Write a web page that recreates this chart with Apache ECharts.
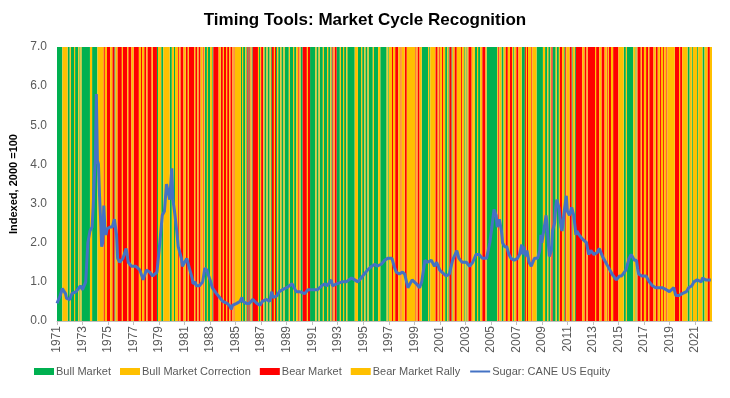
<!DOCTYPE html>
<html>
<head>
<meta charset="utf-8">
<title>Timing Tools: Market Cycle Recognition</title>
<script src="https://cdn.jsdelivr.net/npm/echarts@6/dist/echarts.min.js"></script>
<style>
    html, body { margin: 0; padding: 0; background: #fff; }
    #chart { width: 730px; height: 398px; }
</style>
</head>
<body>
<div id="chart"></div>
<script>
// 每年 12 个月的市场周期 (G 牛市, C 牛市回调, B 熊市, R 熊市反弹), 从 1971 年 1 月开始
const regimeYears = [
    'GGGGGCCCCCGG', 'CGGGCGGGCGCG', 'GGGGGGGCCGGG', 'GGCCCCCCBRRB', 'BBRRBBGCCBBB', // 1971-1975
    'BRBBBBRBBBRR', 'BBBBBRRBRRBB', 'RBBBBRBBBBGC', 'CCGGCCCCCCGG', 'CCGCCCBRBBBR', // 1976-1980
    'RBBRBBBBBRBB', 'RBBRRBRGGCGG', 'CCGBBBBBRRBB', 'RBBRBBRBBRBR', 'RRRRRGCGGCGB', // 1981-1985
    'GBRGBBBBBRGC', 'BBRGGCGGCGBB', 'RBGCGGCGGCGG', 'GGCGGGCGGCCB', 'RGGBBBBRBBGG', // 1986-1990
    'GGGCGGCGGGCG', 'GGCGGCGBRBBG', 'GGCGGCGGCGGG', 'GGGGCCCGGGCG', 'GCGGCGGGGCGG', // 1991-1995
    'GGCCGGGGGGCG', 'CCCBRRBBBRRB', 'RRRBBRRRRRRR', 'RBRBBRRGGGGG', 'GCGCCCCCBBRB', // 1996-2000
    'RRBRRGGCGBBG', 'CCBBRRRRBRRG', 'CGCBBBRRCGGC', 'GGCCBBBRGGGG', 'GGGGGGCBRRGG', // 2001-2005
    'CCBBRRBBRGCC', 'BBRRRGGGBRBR', 'RRBRRRRGGGGG', 'GCCGGCGGCBGG', 'GCGGCBBRRGBR', // 2006-2010
    'RRBBGCCGBBBB', 'BBRRBBRBBBBB', 'BBRBBBRRBBBR', 'RBRBBRRBBBBB', 'RRRRRGGCGGGG', // 2011-2015
    'GGCCGCBBBRBB', 'RRBBRBBBBRRB', 'BRRBRRBRRBRR', 'RRRRRBBBBRBB', 'RRRRRGGCCGCC', // 2016-2020
    'CCGCCCCGGCCC', 'BBRR'                                                           // 2021-2022
];

const regimeCodes = ['G', 'C', 'B', 'R'];
const regimeNames = ['Bull Market', 'Bull Market Correction', 'Bear Market', 'Bear Market Rally'];
const regimeColors = ['#00B050', '#FFC000', '#FF0000', '#FFC000'];
const regimeHeight = 7;

// 糖价指数 (2000 = 100), 月份为 1971 年 1 月起的偏移
const sugarMonth = [
    0, 3, 5, 8, 9, 12, 14, 18, 22, 24, 27, 28, 29, 31, 33, 34, 35, 36, 37, 38,
    39, 40, 41, 42, 43, 44, 45, 46, 47, 48, 50, 52, 54, 56, 57, 59, 62, 65, 67, 70,
    74, 75, 78, 81, 84, 87, 90, 94, 96, 99, 101, 103, 104, 106, 108, 109, 111, 113, 114, 115,
    117, 118, 122, 123, 125, 127, 128, 130, 131, 134, 137, 139, 141, 142, 144, 146, 150, 153, 156, 160,
    162, 164, 165, 169, 172, 174, 175, 178, 181, 184, 188, 191, 193, 197, 200, 202, 203, 207, 209, 212,
    216, 221, 222, 225, 228, 233, 236, 238, 242, 245, 249, 252, 254, 258, 259, 263, 268, 272, 277, 280,
    283, 286, 289, 292, 296, 299, 301, 305, 308, 311, 315, 317, 319, 322, 325, 327, 330, 331, 334, 338,
    341, 343, 346, 348, 352, 355, 357, 360, 362, 366, 369, 372, 376, 377, 378, 381, 385, 388, 391, 394,
    397, 400, 404, 407, 409, 411, 413, 414, 416, 418, 419, 421, 423, 425, 427, 430, 433, 435, 437, 438,
    439, 441, 442, 444, 446, 449, 452, 454, 455, 456, 460, 461, 463, 465, 466, 468, 469, 470, 472, 474,
    475, 477, 479, 480, 482, 484, 485, 486, 488, 489, 491, 494, 498, 500, 502, 505, 508, 510, 513, 516,
    519, 522, 526, 529, 531, 535, 538, 540, 543, 545, 546, 547, 550, 554, 557, 560, 563, 566, 569, 573,
    576, 578, 580, 582, 585, 588, 592, 594, 597, 599, 602, 606, 607, 610, 611, 615
];
const sugarIndex = [
    0.45, 0.65, 0.83, 0.7, 0.58, 0.55, 0.7, 0.75, 0.9, 0.8, 1.0, 1.5, 2.0, 2.3, 2.4, 2.9, 3.6, 4.1, 5.8, 4.1,
    4.0, 3.2, 2.6, 1.9, 2.0, 2.95, 2.4, 2.2, 2.35, 2.3, 2.4, 2.4, 2.6, 2.2, 1.6, 1.5, 1.6, 1.85, 1.5, 1.4,
    1.4, 1.45, 1.3, 1.05, 1.3, 1.25, 1.15, 1.25, 1.8, 2.7, 2.8, 3.5, 3.5, 3.1, 3.9, 3.1, 2.7, 2.2, 1.9, 1.8,
    1.6, 1.4, 1.6, 1.6, 1.3, 1.1, 0.95, 1.0, 0.9, 0.9, 1.0, 1.35, 1.3, 1.2, 1.05, 0.85, 0.7, 0.6, 0.5, 0.45,
    0.4, 0.3, 0.4, 0.45, 0.5, 0.6, 0.5, 0.45, 0.45, 0.55, 0.45, 0.4, 0.5, 0.55, 0.5, 0.75, 0.6, 0.65, 0.75, 0.8,
    0.85, 0.95, 0.9, 0.75, 0.75, 0.7, 0.8, 0.8, 0.8, 0.8, 0.9, 0.95, 0.9, 1.05, 0.9, 0.95, 1.0, 1.0, 1.1, 1.05,
    1.0, 1.1, 1.2, 1.3, 1.4, 1.45, 1.4, 1.45, 1.55, 1.6, 1.6, 1.4, 1.25, 1.2, 1.25, 1.2, 0.85, 0.9, 1.05, 0.95,
    0.85, 1.0, 1.55, 1.5, 1.55, 1.4, 1.5, 1.3, 1.25, 1.15, 1.2, 1.55, 1.8, 1.7, 1.6, 1.5, 1.5, 1.4, 1.5, 1.7,
    1.7, 1.6, 1.6, 2.0, 2.4, 2.85, 2.7, 2.4, 2.6, 2.3, 2.0, 1.9, 1.9, 1.7, 1.6, 1.55, 1.6, 1.7, 1.95, 1.7,
    1.9, 1.65, 1.8, 1.5, 1.4, 1.6, 1.6, 1.8, 2.2, 2.0, 2.7, 2.4, 1.65, 1.8, 2.3, 2.5, 2.9, 3.1, 2.9, 2.4,
    2.3, 2.8, 3.2, 2.8, 2.7, 2.9, 2.9, 2.7, 2.2, 2.3, 2.2, 2.1, 2.0, 1.7, 1.8, 1.7, 1.75, 1.85, 1.65, 1.5,
    1.35, 1.2, 1.05, 1.15, 1.15, 1.3, 1.6, 1.7, 1.55, 1.55, 1.35, 1.2, 1.15, 1.15, 1.0, 0.9, 0.85, 0.85, 0.85, 0.8,
    0.75, 0.8, 0.85, 0.65, 0.65, 0.7, 0.75, 0.85, 0.9, 1.0, 1.05, 1.0, 1.1, 1.05, 1.0, 1.05
];

const startYear = 1971;
const yearTickMonths = 24;

// 把每月周期合并成连续区段 [起始月, 结束月, 高度]
function buildRuns(code) {
    const months = regimeYears.join('');
    const runs = [];
    let start = -1;
    for (let i = 0; i <= months.length; i++) {
        const hit = months[i] === code;
        if (hit && start < 0) start = i;
        if (!hit && start >= 0) {
            runs.push([start, i, regimeHeight]);
            start = -1;
        }
    }
    return runs;
}

// 画一个整列的色块
function renderRun(params, api) {
    const topLeft = api.coord([api.value(0), api.value(2)]);
    const bottomRight = api.coord([api.value(1), 0]);
    return {
        type: 'rect',
        shape: {
            x: topLeft[0],
            y: topLeft[1],
            width: bottomRight[0] - topLeft[0],
            height: bottomRight[1] - topLeft[1]
        },
        style: { fill: api.visual('color') }
    };
}

const totalMonths = regimeYears.join('').length;
const font = 'Liberation Sans';

const regimeSeries = regimeCodes.map((code, i) => ({
    name: regimeNames[i],
    type: 'custom',
    renderItem: renderRun,
    itemStyle: { color: regimeColors[i] },
    encode: { x: [0, 1], y: 2 },
    clip: true,
    silent: true,
    z: 1,
    data: buildRuns(code)
}));

const myChart = echarts.init(document.getElementById('chart'), null, { renderer: 'canvas' });

const option = {
    animation: false,
    title: {
        text: 'Timing Tools: Market Cycle Recognition',
        left: 'center',
        top: 7,
        textStyle: { fontFamily: font, fontSize: 17, fontWeight: 'bold', color: '#000' }
    },
    legend: {
        bottom: 16,
        left: 29,
        itemWidth: 20,
        itemHeight: 7,
        itemGap: 9,
        textStyle: { fontFamily: font, fontSize: 11, color: '#595959', padding: [0, 0, 0, -3] },
        data: [
            { name: regimeNames[0], icon: 'rect' },
            { name: regimeNames[1], icon: 'rect' },
            { name: regimeNames[2], icon: 'rect' },
            { name: regimeNames[3], icon: 'rect' },
            { name: 'Sugar: CANE US Equity', itemStyle: { color: 'rgba(0,0,0,0)', borderWidth: 0 } }
        ]
    },
    grid: { left: 57, right: 18, top: 47, bottom: 77 },
    xAxis: {
        type: 'value',
        min: 0,
        max: totalMonths,
        interval: yearTickMonths,
        axisLine: { show: true, lineStyle: { color: '#BFBFBF' } },
        axisTick: { show: true, length: 4, lineStyle: { color: '#BFBFBF' } },
        splitLine: { show: false },
        axisLabel: {
            rotate: 90,
            fontFamily: font,
            fontSize: 12,
            color: '#595959',
            margin: 5,
            showMaxLabel: false,
            formatter: v => String(startYear + v / 12)
        }
    },
    yAxis: {
        type: 'value',
        min: 0,
        max: 7,
        interval: 1,
        name: 'Indexed, 2000 =100',
        nameLocation: 'middle',
        nameGap: 31,
        nameTextStyle: { fontFamily: font, fontSize: 11, fontWeight: 'bold', color: '#000' },
        axisLine: { show: false },
        axisTick: { show: false },
        splitLine: { show: false },
        axisLabel: {
            fontFamily: font,
            fontSize: 12,
            color: '#595959',
            margin: 10,
            formatter: v => v.toFixed(1)
        }
    },
    series: regimeSeries.concat([{
        name: 'Sugar: CANE US Equity',
        type: 'line',
        symbol: 'none',
        z: 5,
        lineStyle: { color: '#4472C4', width: 3 },
        itemStyle: { color: '#4472C4' },
        data: sugarMonth.map((m, i) => [m, sugarIndex[i]])
    }])
};

myChart.setOption(option, true);
</script>
</body>
</html>
